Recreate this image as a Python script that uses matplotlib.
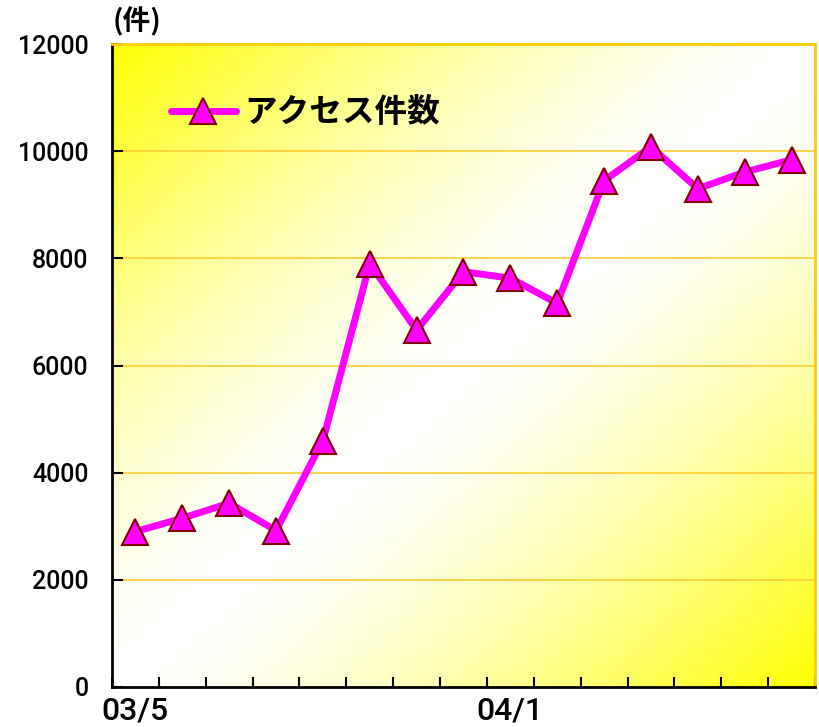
import numpy as np
import matplotlib
matplotlib.use("Agg")
import matplotlib.pyplot as plt
from matplotlib.colors import LinearSegmentedColormap

categories = ["03/5", "03/6", "03/7", "03/8", "03/9", "03/10", "03/11", "03/12",
              "04/1", "04/2", "04/3", "04/4", "04/5", "04/6", "04/7"]
shown_labels = ["03/5", "", "", "", "", "", "", "", "04/1", "", "", "", "", "", ""]
access = [2900, 3150, 3430, 2920, 4600, 7900, 6660, 7750, 7630, 7160,
          9450, 10080, 9300, 9610, 9840]
series_name = "アクセス件数"
y_ticks = [0, 2000, 4000, 6000, 8000, 10000, 12000]

fig = plt.figure(figsize=(8.2, 7.27), dpi=100)
ax = fig.add_axes([112/820, 40/727, 703/820, 643/727])

n = len(categories)
x = np.arange(n)
ax.set_xlim(-0.5, n - 0.5)
ax.set_ylim(0, 12000)

# gradient background
gx, gy = np.meshgrid(np.linspace(0, 1, 400), np.linspace(0, 1, 400))
t = np.abs(gx - gy) ** 1.5
cmap = LinearSegmentedColormap.from_list("yw", ["#FFFFFF", "#FFFF00"])
ax.imshow(t, extent=(-0.5, n - 0.5, 0, 12000), origin="lower", aspect="auto",
          cmap=cmap, vmin=0, vmax=1, zorder=0)

for yv in y_ticks[1:-1]:
    ax.axhline(yv, color="#FFCC33", lw=1.2, zorder=1)

ax.plot(x, access, color="#FF00FF", lw=5, marker="^", markersize=19,
        markerfacecolor="#FF00FF", markeredgecolor="#800000", markeredgewidth=1.5,
        zorder=3, label=series_name, solid_capstyle="round")

ax.set_yticks(y_ticks)
ax.set_yticklabels([str(v) for v in y_ticks], fontsize=18, weight="medium",
                   family="Roboto")
ax.set_xticks(np.arange(-0.5, n, 1.0))
ax.set_xticklabels([])
ax.set_xticks(x, minor=True)
ax.set_xticklabels(shown_labels, minor=True, fontsize=23, weight="medium",
                   family="Roboto")
ax.tick_params(axis="x", which="minor", length=0, pad=7)
ax.tick_params(axis="x", which="major", direction="in", length=7, width=1.5, color="black")
ax.tick_params(axis="y", direction="in", length=8, width=1.5, pad=17)

for s in ["left", "bottom"]:
    ax.spines[s].set_color("black")
    ax.spines[s].set_linewidth(2)
for s in ["top", "right"]:
    ax.spines[s].set_color("#FFCC00")
    ax.spines[s].set_linewidth(2)

leg = ax.legend(loc="upper left", bbox_to_anchor=(0.065, 0.939), frameon=False,
                prop={"family": ["Noto Sans CJK JP", "DejaVu Sans"], "weight": "bold", "size": 23.5},
                handlelength=2.0, handletextpad=0.25, borderaxespad=0)

fig.text(113/820, 1 - 22/727, "(件)", fontsize=20, weight="bold",
         family=["Noto Sans CJK JP", "DejaVu Sans"], va="center", ha="left")

fig.savefig("out.png", dpi=100)
